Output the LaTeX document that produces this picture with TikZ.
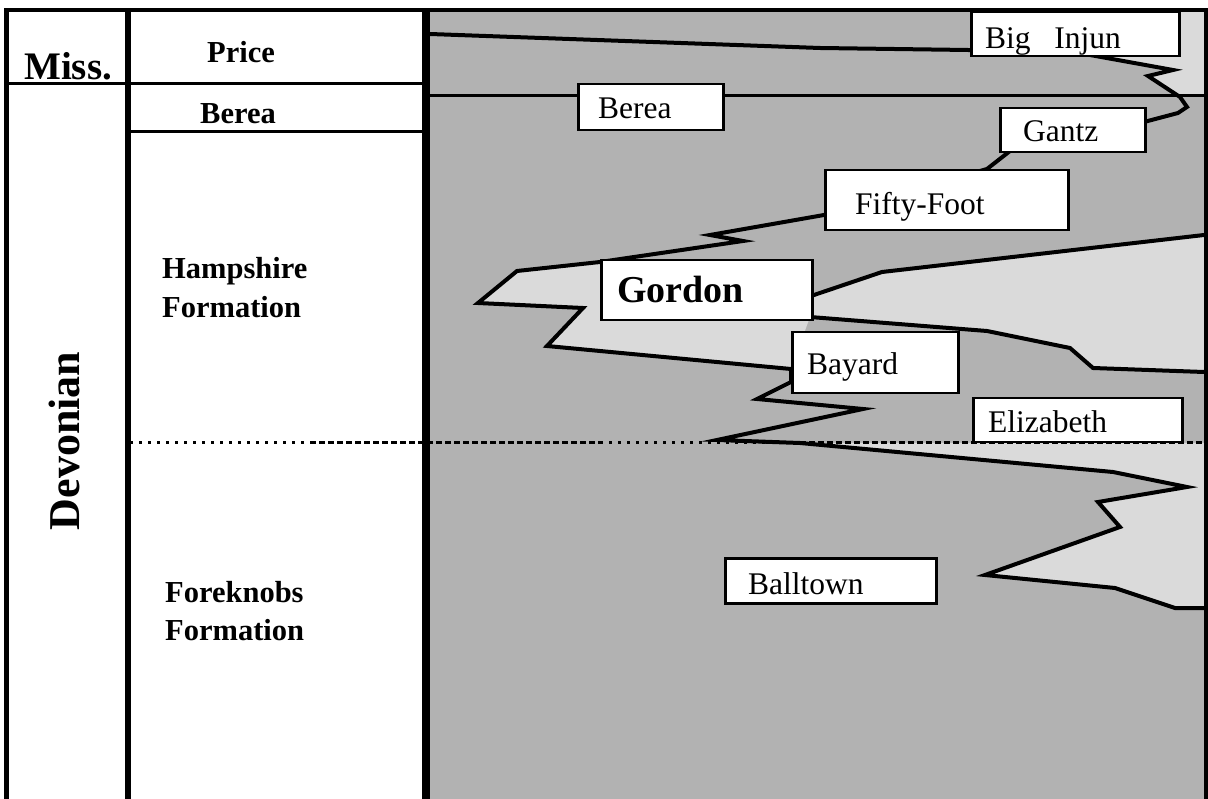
\documentclass[tikz,border=0pt]{standalone}
\usepackage{fontspec}
\setmainfont{Liberation Serif}
\begin{document}
\begin{tikzpicture}[x=1pt,y=-1pt,
  frame/.style={line width=#1, black},
  contact/.style={line width=4pt, line join=miter, black},
  lbl/.style={anchor=base west, inner sep=0pt, font=\fontsize{31.5}{31.5}\selectfont},
  blbl/.style={anchor=base west, inner sep=0pt, font=\fontsize{30.5}{30.5}\selectfont\bfseries},
  labelbox/.style={draw=black, line width=2.5pt, fill=white, inner sep=0pt, anchor=north west},
  dotline/.style={line width=3pt, dash pattern=on 6pt off 3pt},
  sparsedots/.style={line width=3pt, dash pattern=on 3pt off 6pt}]
\definecolor{shaledark}{HTML}{B2B2B2}
\definecolor{sandlight}{HTML}{DADADA}
\useasboundingbox (0,0) rectangle (1208,799);
\fill[white] (0,0) rectangle (1208,799);
% right panel background
\fill[shaledark] (430,12) rectangle (1204,799);
% light tongues
\fill[sandlight] (1090,55) -- (1173,70) -- (1148,76) -- (1180,97) -- (1204,97) -- (1204,12) -- (1178,12) -- (1178,55) -- cycle;
\fill[sandlight] (1204,235) -- (882,272) -- (811,296) -- (600,262) -- (517,271) -- (478,303) -- (583,308) -- (547,346) -- (791,369) -- (810,317) -- (987,331) -- (1070,348) -- (1093,368) -- (1204,372) -- cycle;
\fill[sandlight] (717,443) -- (800,443) -- (1113,472) -- (1187,487) -- (1098,502) -- (1120,527) -- (985,575) -- (1115,588) -- (1175,608) -- (1204,608) -- (1204,443) -- cycle;
% coordinates for contacts
\coordinate (tl) at (430,34);
\coordinate (re) at (1204,608);
\coordinate (ua) at (1204,235);
\coordinate (da) at (1204,372);
\coordinate (bw) at (430,96);
\coordinate (be) at (1204,96);
% main diachronous contact
\draw[contact] (tl) -- (820,48) -- (968,50) -- (1090,55) -- (1173,70) -- (1148,76) -- (1180,97) -- (1187,107) -- (1178,113) -- (1144,122) -- (1010,151) -- (987,169) -- (824,215) -- (710,235) -- (743,241) -- (600,262) -- (517,271) -- (478,303) -- (583,308) -- (547,346) -- (791,369) -- (791,382) -- (757,399) -- (863,409) -- (717,440) -- (800,443) -- (1113,472) -- (1187,487) -- (1098,502) -- (1120,527) -- (985,575) -- (1115,588) -- (1175,608) -- (re);
% Gordon upper and lower contacts
\draw[contact] (ua) -- (882,272) -- (811,296);
\draw[contact] (810,317) -- (987,331) -- (1070,348) -- (1093,368) -- (da);
% Berea base
\draw[line width=3pt] (bw) -- (be);
% Devonian subdivision dotted line
\coordinate (d0) at (130,443);
\coordinate (d1) at (310,443);
\coordinate (d2) at (600,443);
\coordinate (d3) at (800,443);
\coordinate (d4) at (1204,443);
\draw[sparsedots] (d0) -- (d1);
\draw[dotline] (d1) -- (d2);
\draw[sparsedots] (d2) -- (d3);
\draw[dotline] (d3) -- (d4);
% label boxes
\node[labelbox, minimum width=208pt, minimum height=44pt] (bigbox) at (970,11) {};
\node[labelbox, minimum width=145pt, minimum height=46pt] (bereabox) at (577,83) {};
\node[labelbox, minimum width=145pt, minimum height=44pt] (gantzbox) at (999,107) {};
\node[labelbox, minimum width=243pt, minimum height=60pt] (fiftybox) at (824,169) {};
\node[labelbox, minimum width=211pt, minimum height=60pt] (gordonbox) at (600,259) {};
\node[labelbox, minimum width=166pt, minimum height=61pt] (bayardbox) at (791,331) {};
\node[labelbox, minimum width=209pt, minimum height=44pt] (elizbox) at (972,397) {};
\node[labelbox, minimum width=211pt, minimum height=45pt] (balltownbox) at (724,557) {};
% label texts
\node[lbl] (bigtxt) at (985,49) {Big\hspace{0.75em}Injun};
\node[lbl] (bereatxt) at (598,119) {Berea};
\node[lbl] (gantztxt) at (1023,142) {Gantz};
\node[lbl] (fiftytxt) at (855,215) {Fifty-Foot};
\node[anchor=base west, inner sep=0pt, font=\fontsize{38}{38}\selectfont\bfseries] (gordontxt) at (617,303) {Gordon};
\node[lbl] (bayardtxt) at (807,375) {Bayard};
\node[lbl] (eliztxt) at (988,433) {Elizabeth};
\node[lbl] (balltowntxt) at (748,594) {Balltown};
% frame lines
\draw[frame=4pt] (4,10) -- (1208,10);
\draw[frame=5pt] (6.5,10) -- (6.5,799);
\draw[frame=6pt] (128,10) -- (128,799);
\draw[frame=8pt] (426,10) -- (426,799);
\draw[frame=4pt] (1206,10) -- (1206,799);
\draw[frame=3pt] (6,84) -- (426,84);
\draw[frame=3pt] (128,132) -- (426,132);
% left column texts
\node[anchor=base west, inner sep=0pt, font=\fontsize{39}{39}\selectfont\bfseries] (miss) at (24,80) {Miss.};
\node[blbl] (price) at (207,63) {Price};
\node[blbl] (berea) at (200,124) {Berea};
\node[blbl] (hamp1) at (162,279) {Hampshire};
\node[blbl] (hamp2) at (162,318) {Formation};
\node[blbl] (fore1) at (165,602) {Foreknobs};
\node[blbl] (fore2) at (165,640) {Formation};
\node[rotate=90, inner sep=0pt, font=\fontsize{44}{44}\selectfont\bfseries] (devonian) at (64,441) {Devonian};
\end{tikzpicture}
\end{document}
